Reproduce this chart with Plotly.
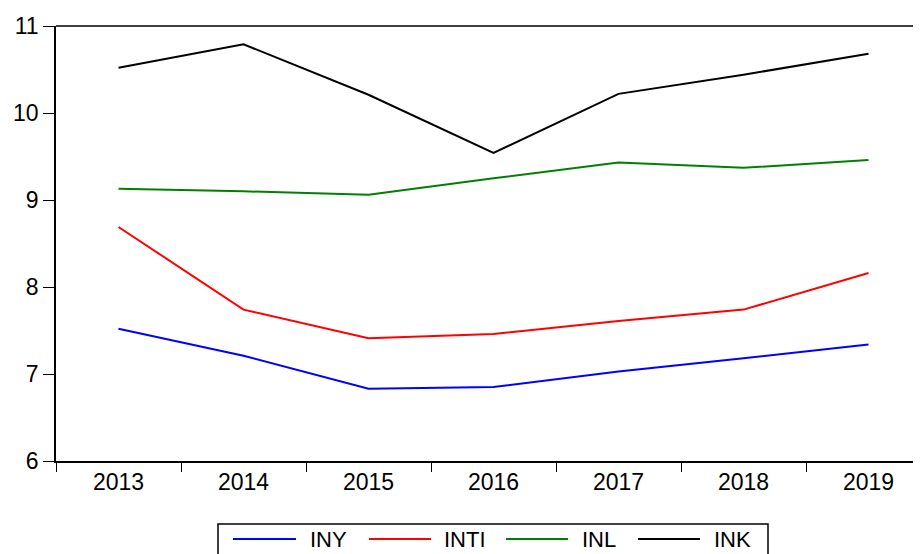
import plotly.graph_objects as go

years = ["2013", "2014", "2015", "2016", "2017", "2018", "2019"]
iny = [7.52, 7.21, 6.83, 6.85, 7.03, 7.18, 7.34]
inti = [8.69, 7.74, 7.41, 7.46, 7.61, 7.74, 8.16]
inl = [9.13, 9.10, 9.06, 9.25, 9.43, 9.37, 9.46]
ink = [10.52, 10.79, 10.21, 9.54, 10.22, 10.44, 10.68]
y_ticks = [6, 7, 8, 9, 10, 11]

series = [("INY", iny, "#0000FF"), ("INTI", inti, "#FF0000"),
          ("INL", inl, "#008000"), ("INK", ink, "#000000")]

OFF = 8  # page body margin in the browser
W, H = 921 - OFF, 554 - OFF
L, R, T = 56 - OFF, 0, 26 - OFF
B = H - (461 - OFF)
pw, ph = W - L - R, H - T - B

def px_x(x):
    return (x - OFF - L) / pw

def px_y(y):
    return (H - B - (y - OFF)) / ph

fig = go.Figure()
for name, vals, col in series:
    fig.add_trace(go.Scatter(x=years, y=vals, name=name, mode="lines",
                             line=dict(color=col, width=2), showlegend=False))

# manual legend (EViews style) below the plot
leg_line_x = [(233, 296), (369, 431), (506, 568), (638, 700)]
leg_text_x = [310, 444, 582, 714]
shapes = [dict(type="line", xref="paper", yref="paper", x0=0, x1=1, y0=1, y1=1,
               line=dict(color="black", width=1.5)),
          dict(type="rect", xref="paper", yref="paper", x0=px_x(218), x1=px_x(768),
               y0=px_y(570), y1=px_y(524), line=dict(color="black", width=1.5))]
annotations = []
ly = 539
for (name, _, col), (a, b), tx in zip(series, leg_line_x, leg_text_x):
    shapes.append(dict(type="line", xref="paper", yref="paper", x0=px_x(a), x1=px_x(b),
                       y0=px_y(ly), y1=px_y(ly), line=dict(color=col, width=2)))
    annotations.append(dict(text=name, xref="paper", yref="paper", x=px_x(tx - 2), y=px_y(ly),
                            xanchor="left", yanchor="middle", showarrow=False,
                            font=dict(size=22)))

fig.update_layout(
    width=W, height=H,
    margin=dict(l=L, r=R, t=T, b=B),
    paper_bgcolor="white", plot_bgcolor="white",
    font=dict(family="Liberation Sans, Arial, sans-serif", size=23, color="black"),
    showlegend=False,
    xaxis=dict(type="category", range=[-0.5, 6.42], showline=True, linecolor="black",
               linewidth=1.5, ticks="outside", ticklen=9, tickcolor="black", tickson="boundaries",
               showgrid=False, zeroline=False),
    yaxis=dict(range=[6, 11], tickvals=y_ticks, showline=True, linecolor="black", linewidth=1.5,
               ticks="outside", ticklen=11, tickcolor="black", showgrid=False, zeroline=False),
    shapes=shapes,
    annotations=annotations,
)

fig.write_html("out.html")
